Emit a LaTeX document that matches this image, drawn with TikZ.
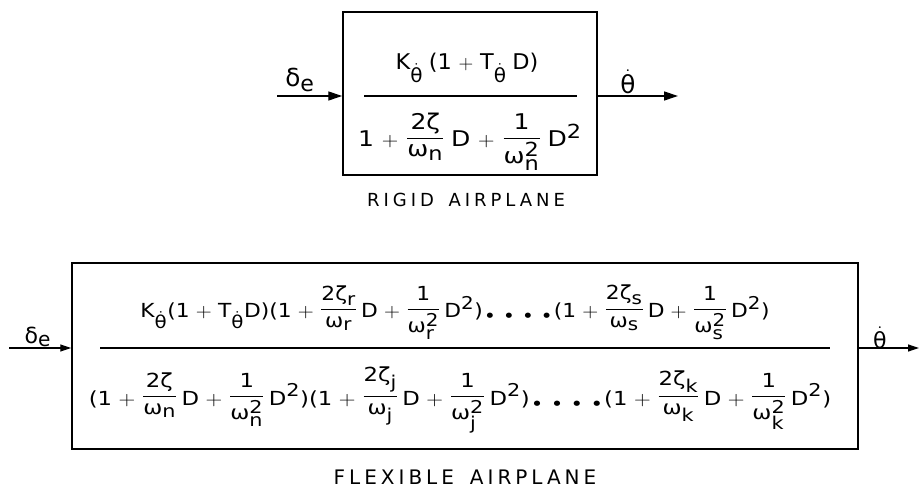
\documentclass[tikz,border=0pt]{standalone}
\usepackage{amsmath}
\usepackage{graphicx}
\usepackage{fontspec}
\setmainfont{DejaVu Sans}
\newfontfamily\lblfont[LetterSpace=20]{DejaVu Sans}
\newfontfamily\lblfontb[LetterSpace=22]{DejaVu Sans}
\usetikzlibrary{arrows.meta}
\DeclareMathSizes{19}{19}{17}{14}
\DeclareMathSizes{17}{17}{15.5}{13}
\newcommand{\sv}[1]{\text{#1}}
\newcommand{\finner}[2]{\raisebox{3.5pt}{$\displaystyle\genfrac{}{}{1pt}{0}{#1}{#2}$}}
\newcommand{\thd}{\dot{\sv{θ}}}
\newcommand{\lp}{\sv{(}}
\newcommand{\rp}{\sv{)}}
\newcommand{\fac}[2]{\lp\sv{1}+\finner{\sv{2ζ}_{\sv{#1}}}{\sv{ω}_{\sv{#2}}}\,\sv{D}+\finner{\sv{1}}{\sv{ω}_{\sv{#2}}^{\sv{2}}}\,\sv{D}^{\sv{2}}\rp}
\newcommand{\bd}{\text{\fontsize{6}{6}\selectfont ●}}
\newcommand{\dotsfour}{\bd\;\;\bd\;\;\bd\;\;\bd}
\begin{document}
\begin{tikzpicture}[x=1pt,y=-1pt,
  box/.style={draw, line width=1.5pt, inner sep=0pt},
  bar/.style={line width=1.8pt},
  sig/.style={line width=1.3pt, -{Triangle[length=14pt,width=9pt]}},
  sigs/.style={line width=1.2pt, -{Triangle[length=11pt,width=7pt]}},
  sym/.style={inner sep=0pt},
  eqt/.style={inner sep=0pt, anchor=base, font=\fontsize{19}{22}\selectfont},
  eqb/.style={inner sep=0pt, anchor=base, font=\fontsize{17}{20}\selectfont}]
\useasboundingbox (0,0) rectangle (919,489);
% rigid airplane
\node[box, minimum width=254pt, minimum height=163pt] (rb) at (470,93.5) {};
\node[eqt] (rnum) at (467,70)
  {\scalebox{1.18}[1.14]{\medmuskip=6mu plus 2mu$\displaystyle \sv{K}_{\thd}\;\lp\sv{1}+\sv{T}_{\thd}\;\sv{D}\rp$}};
\node[eqt] (rden) at (470,147)
  {\scalebox{1.32}[1.14]{\medmuskip=6mu plus 2mu$\displaystyle \sv{1}+\finner{\sv{2ζ}}{\sv{ω}_{\sv{n}}}\;\sv{D}+\finner{\sv{1}}{\sv{ω}_{\sv{n}}^{\sv{2}}}\;\sv{D}^{\sv{2}}$}};
\coordinate (rbarl) at (364,96);
\coordinate (rbarr) at (577,96);
\draw[bar] (rbarl) -- (rbarr);
\coordinate (rin) at (277,96);
\coordinate (rout) at (678,96);
\draw[sig] (rin) -- (rin -| rb.west);
\draw[sig] (rout -| rb.east) -- (rout);
\node[sym, font=\fontsize{19}{22}\selectfont] (rde) at (300,80) {\scalebox{1.3}{$\sv{δ}_{\sv{e}}$}};
\node[sym, font=\fontsize{19}{22}\selectfont] (rth) at (628,82) {\scalebox{1.3}{$\thd$}};
\node[sym, font=\lblfontb\fontsize{18}{21}\selectfont] (rl) at (466,200) {RIGID\; AIRPLANE};
% flexible airplane
\node[box, minimum width=786pt, minimum height=186pt] (fb) at (465,356) {};
\node[eqb] (fnum) at (455,318)
  {\scalebox{1.28}[1.14]{\medmuskip=5mu plus 2mu$\displaystyle \sv{K}_{\thd}\lp\sv{1}+\sv{T}_{\thd}\sv{D}\rp\fac{r}{r}\,\dotsfour\,\fac{s}{s}$}};
\node[eqb] (fden) at (460,405)
  {\scalebox{1.34}[1.14]{\medmuskip=5mu plus 2mu$\displaystyle \fac{}{n}\fac{j}{j}\,\dotsfour\,\fac{k}{k}$}};
\coordinate (fbarl) at (100,348);
\coordinate (fbarr) at (830,348);
\draw[bar] (fbarl) -- (fbarr);
\coordinate (fin) at (9,348);
\coordinate (fout) at (919,348);
\draw[sigs] (fin) -- (fin -| fb.west);
\draw[sigs] (fout -| fb.east) -- (fout);
\node[sym, font=\fontsize{17}{20}\selectfont] (fde) at (38,337) {\scalebox{1.3}{$\sv{δ}_{\sv{e}}$}};
\node[sym, font=\fontsize{17}{20}\selectfont] (fth) at (880,338) {\scalebox{1.3}{$\thd$}};
\node[sym, font=\lblfont\fontsize{20}{24}\selectfont] (fl) at (465,477) {FLEXIBLE\; AIRPLANE};
\end{tikzpicture}
\end{document}
